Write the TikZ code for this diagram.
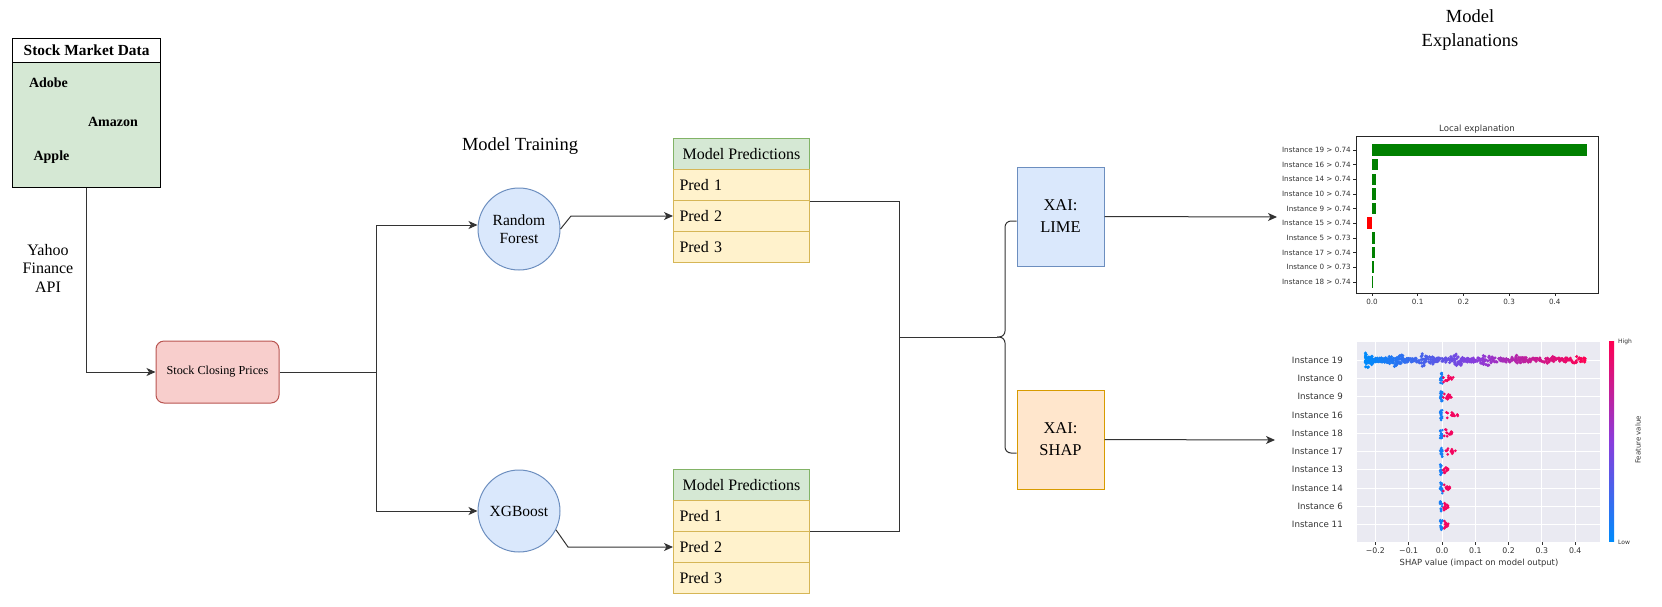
\documentclass[tikz,border=0pt]{standalone}
\usepackage{fontspec}
\setmainfont{Liberation Serif}
\newfontfamily\plotfont{DejaVu Sans}
\usetikzlibrary{arrows.meta}
\definecolor{greenfill}{HTML}{D5E8D4}
\definecolor{greenborder}{HTML}{82B366}
\definecolor{yellowfill}{HTML}{FFF2CC}
\definecolor{yellowborder}{HTML}{D6B656}
\definecolor{bluefill}{HTML}{DAE8FC}
\definecolor{blueborder}{HTML}{6C8EBF}
\definecolor{pinkfill}{HTML}{F8CECC}
\definecolor{pinkborder}{HTML}{B85450}
\definecolor{orangefill}{HTML}{FFE6CC}
\definecolor{orangeborder}{HTML}{D79B00}
\definecolor{limegreen}{HTML}{008000}
\definecolor{limered}{HTML}{FF0000}
\definecolor{shapbg}{HTML}{EAEAF2}
\definecolor{shapblue}{HTML}{008BFB}
\definecolor{shappurple}{HTML}{8A3CDC}
\definecolor{shapred}{HTML}{FF0052}
\definecolor{plottext}{HTML}{333333}
\tikzset{
  conn/.style={draw=black!80, line width=1pt},
  arr/.style={conn, -{Stealth[length=9pt,width=8pt,inset=2.5pt]}},
  circnode/.style={circle, draw=blueborder, fill=bluefill, line width=1pt, minimum size=82pt, inner sep=0pt, align=center, font=\fontsize{15.5}{18.5}\selectfont},
  hdr/.style={draw=greenborder, fill=greenfill, line width=1pt, minimum width=136pt, minimum height=31pt, inner sep=0pt, anchor=north west, font=\fontsize{16}{19}\selectfont},
  predrow/.style={draw=yellowborder, fill=yellowfill, line width=1pt, text width=124pt, inner xsep=6pt, inner ysep=0pt, minimum height=31pt, align=left, anchor=north west, font=\fontsize{16}{19}\selectfont},
  xaibox/.style={line width=1pt, minimum width=87pt, minimum height=99pt, inner sep=0pt, align=center, font=\fontsize{16.5}{22}\selectfont},
  bigtitle/.style={align=center, font=\fontsize{18.5}{24}\selectfont},
  stockitem/.style={font=\fontsize{14}{16}\selectfont\bfseries},
  plotax/.style={draw=black!85, line width=0.6pt},
  limelab/.style={font=\plotfont\fontsize{7.2}{8}\selectfont, text=plottext, inner sep=0pt},
  shaplab/.style={font=\plotfont\fontsize{8.7}{10}\selectfont, text=plottext, inner sep=0pt},
  shaptick/.style={font=\plotfont\fontsize{7.8}{9}\selectfont, text=plottext, inner sep=0pt},
}
\begin{document}
\begin{tikzpicture}[x=1pt,y=-1pt]
\useasboundingbox (0,0) rectangle (1662,606);

% ---------- Stock market data ----------
\node[draw=black, fill=greenfill, line width=1.2pt, anchor=north west, minimum width=148pt, minimum height=125pt, inner sep=0pt] (smdbody) at (12,62) {};
\node[draw=black, fill=white, line width=1.2pt, anchor=north west, minimum width=148pt, minimum height=24pt, inner sep=0pt, font=\fontsize{15.4}{18}\selectfont\bfseries] (smdhead) at (12,38) {Stock Market Data};
\node[stockitem] (adobe) at (48.5,83) {Adobe};
\node[stockitem] (amazon) at (113,122) {Amazon};
\node[stockitem] (apple) at (51.5,157) {Apple};

\node[align=center, font=\fontsize{16}{18.5}\selectfont] (yahoo) at (48,268) {Yahoo\\Finance\\API};

\node[draw=pinkborder, fill=pinkfill, line width=1pt, rounded corners=8pt, minimum width=123pt, minimum height=62pt, inner sep=0pt, font=\fontsize{12.2}{14}\selectfont] (scp) at (217.5,372) {Stock Closing Prices};

\draw[arr] (smdbody.south) |- (scp.west);

% ---------- Models ----------
\node[bigtitle] (mtrain) at (520,146) {Model Training};
\node[circnode] (rf) at (519,229) {Random\\Forest};
\node[circnode] (xgb) at (519,511) {XGBoost};

\coordinate (split) at (376,372);
\draw[conn] (scp.east) -- (split);
\draw[arr] (split) |- ([yshift=4pt]rf.west);
\draw[arr] (split) |- (xgb.west);

% ---------- Prediction tables ----------
\node[hdr] (t1h) at (673,138) {Model Predictions};
\node[predrow] (t1a) at (673,169) {Pred 1};
\node[predrow] (t1b) at (673,200) {Pred 2};
\node[predrow] (t1c) at (673,231) {Pred 3};

\node[hdr] (t2h) at (673,469) {Model Predictions};
\node[predrow] (t2a) at (673,500) {Pred 1};
\node[predrow] (t2b) at (673,531) {Pred 2};
\node[predrow] (t2c) at (673,562) {Pred 3};

\coordinate (rfbend) at (571,216);
\coordinate (xgbbend) at (568,547);
\draw[arr] (rf.east) -- (rfbend) -- (t1b.west);
\draw[arr] (xgb.-27) -- (xgbbend) -- (t2b.west);

% ---------- merge and brace ----------
\coordinate (merge) at (899,337);
\coordinate (bracetip) at (997,337);
\coordinate (bracespine) at (1005,337);
\draw[conn] (t1a.south east) -| (merge);
\draw[conn] (t2b.north east) -| (merge);
\draw[conn] (merge) -- (bracetip);

\node[xaibox, draw=blueborder, fill=bluefill] (lime) at (1060.5,216.5) {XAI:\\LIME};
\node[xaibox, draw=orangeborder, fill=orangefill] (shap) at (1060.5,439.5) {XAI:\\SHAP};

\draw[conn, rounded corners=6pt] ([yshift=-4.5pt]lime.west) -- (1005,221) -- (bracespine) -- (bracetip);
\draw[conn, rounded corners=6pt] ([yshift=-13.5pt]shap.west) -- (1005,453) -- (bracespine) -- (bracetip);

\coordinate (limetgt) at (1277,217);
\coordinate (shaptgt) at (1275,440);
\draw[arr] (lime.east) -- (limetgt);
\draw[arr] (shap.east) -- (shaptgt);

\node[bigtitle] (mexpl) at (1470,30) {Model\\Explanations};

% ---------- LIME chart ----------
\node[font=\plotfont\fontsize{8.6}{10}\selectfont, text=plottext, inner sep=0pt] (limetitle) at (1477,129) {Local explanation};
\foreach \k/\lab/\val/\col in {0/19 > 0.74/0.47/limegreen, 1/16 > 0.74/0.013/limegreen, 2/14 > 0.74/0.009/limegreen, 3/10 > 0.74/0.009/limegreen, 4/9 > 0.74/0.009/limegreen, 5/15 > 0.74/-0.011/limered, 6/5 > 0.73/0.007/limegreen, 7/17 > 0.74/0.006/limegreen, 8/0 > 0.73/0.004/limegreen, 9/18 > 0.74/0.003/limegreen}{
  \pgfmathsetmacro\yy{150+14.65*\k}
  \fill[\col] (1372,\yy-5.8) rectangle ({1372+457*\val},\yy+5.8);
  \draw[plotax] (1353,\yy) -- (1356,\yy);
  \node[limelab, anchor=east] (limelab\k) at (1351,\yy) {Instance \lab};
}
\draw[plotax] (1356,136) rectangle (1598,293);
\foreach \i in {0,...,4}{
  \draw[plotax] (1372+45.7*\i,293) -- (1372+45.7*\i,296);
  \node[limelab, anchor=north] (limetick\i) at (1372+45.7*\i,298.5) {0.\i};
}

% ---------- SHAP chart ----------
\fill[shapbg] (1357,342) rectangle (1600,542);
\foreach \v in {-2,...,4}{
  \draw[white, line width=0.9pt] (1442+33.3*\v,342) -- (1442+33.3*\v,542);
}
\foreach \k/\lab in {0/19,1/0,2/9,3/16,4/18,5/17,6/13,7/14,8/6,9/11}{
  \pgfmathsetmacro\yy{360+18.3*\k}
  \draw[white, line width=0.9pt] (1357,\yy) -- (1600,\yy);
  \node[shaplab, anchor=east] (shaplab\k) at (1343,\yy) {Instance \lab};
}
\foreach \v/\lab in {-2/−0.2,-1/−0.1,0/0.0,1/0.1,2/0.2,3/0.3,4/0.4}{
  \draw[plotax, draw=plottext] (1442+33.3*\v,542) -- (1442+33.3*\v,545);
  \node[shaptick, anchor=north] (shaptick\v) at (1442+33.3*\v,547) {\lab};
}
\node[shaptick, font=\plotfont\fontsize{8.4}{10}\selectfont] (shapxlab) at (1479,563) {SHAP value (impact on model output)};

% beeswarm, instance 19
\pgfmathsetseed{7}
\foreach \i in {1,...,600}{
  \pgfmathsetmacro\uu{rnd^1.4}
  \pgfmathsetmacro\vx{1442+333*(-0.23+0.66*\uu)}
  \pgfmathsetmacro\bump{(0.5+0.5*cos(2600*\uu))^2}
  \pgfmathsetmacro\vy{360+(rnd-0.5)*(4+18*rnd*(1-0.8*\uu)*\bump)}
  \pgfmathtruncatemacro\mixA{200*\uu}
  \ifnum\mixA<100
    \fill[shappurple!\mixA!shapblue] (\vx,\vy) circle[radius=1.7pt];
  \else
    \pgfmathtruncatemacro\mixB{\mixA-100}
    \fill[shapred!\mixB!shappurple] (\vx,\vy) circle[radius=1.7pt];
  \fi
}
% other instances
\foreach \k/\mx in {1/0.03,2/0.025,3/0.045,4/0.03,5/0.04,6/0.015,7/0.02,8/0.015,9/0.015}{
  \pgfmathsetmacro\yy{360+18.3*\k}
  \foreach \j in {1,...,16}{
    \pgfmathsetmacro\vx{1440+rnd*2.5}
    \pgfmathsetmacro\vy{\yy+(rnd-0.5)*11}
    \fill[shapblue!85!shappurple] (\vx,\vy) circle[radius=1.4pt];
  }
  \foreach \j in {1,...,14}{
    \pgfmathsetmacro\ww{rnd}
    \pgfmathsetmacro\vx{1442+333*(0.004+\mx*\ww)}
    \pgfmathsetmacro\vy{\yy+(rnd-0.5)*(2+7*(1-\ww))}
    \fill[shapred!90!shappurple] (\vx,\vy) circle[radius=1.5pt];
  }
}
% colour bar
\shade[top color=shapred, bottom color=shapblue, middle color=shappurple] (1609,341) rectangle (1614,541);
\node[shaptick, font=\plotfont\fontsize{6}{7}\selectfont, anchor=west] (cbhigh) at (1618,342) {High};
\node[shaptick, font=\plotfont\fontsize{6}{7}\selectfont, anchor=west] (cblow) at (1618,542) {Low};
\node[shaptick, font=\plotfont\fontsize{7}{8}\selectfont, rotate=90] (cbfeat) at (1638,440) {Feature value};
\end{tikzpicture}
\end{document}
